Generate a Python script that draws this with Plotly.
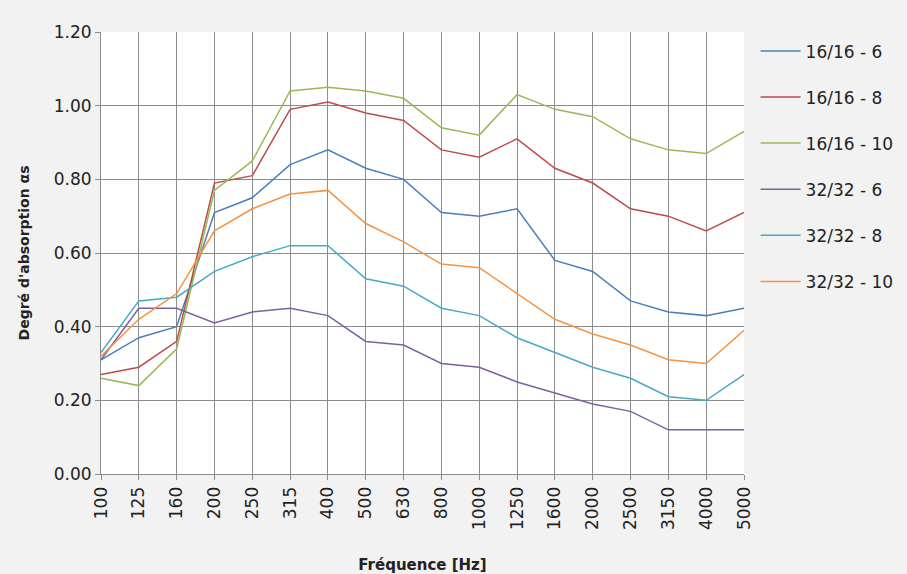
import plotly.graph_objects as go

freqs = ["100", "125", "160", "200", "250", "315", "400", "500", "630", "800",
         "1000", "1250", "1600", "2000", "2500", "3150", "4000", "5000"]

s16_6 = [0.31, 0.37, 0.40, 0.71, 0.75, 0.84, 0.88, 0.83, 0.80, 0.71, 0.70, 0.72, 0.58, 0.55, 0.47, 0.44, 0.43, 0.45]
s16_8 = [0.27, 0.29, 0.36, 0.79, 0.81, 0.99, 1.01, 0.98, 0.96, 0.88, 0.86, 0.91, 0.83, 0.79, 0.72, 0.70, 0.66, 0.71]
s16_10 = [0.26, 0.24, 0.34, 0.77, 0.85, 1.04, 1.05, 1.04, 1.02, 0.94, 0.92, 1.03, 0.99, 0.97, 0.91, 0.88, 0.87, 0.93]
s32_6 = [0.31, 0.45, 0.45, 0.41, 0.44, 0.45, 0.43, 0.36, 0.35, 0.30, 0.29, 0.25, 0.22, 0.19, 0.17, 0.12, 0.12, 0.12]
s32_8 = [0.33, 0.47, 0.48, 0.55, 0.59, 0.62, 0.62, 0.53, 0.51, 0.45, 0.43, 0.37, 0.33, 0.29, 0.26, 0.21, 0.20, 0.27]
s32_10 = [0.32, 0.42, 0.49, 0.66, 0.72, 0.76, 0.77, 0.68, 0.63, 0.57, 0.56, 0.49, 0.42, 0.38, 0.35, 0.31, 0.30, 0.39]

names = ["16/16 - 6", "16/16 - 8", "16/16 - 10", "32/32 - 6", "32/32 - 8", "32/32 - 10"]
series = [s16_6, s16_8, s16_10, s32_6, s32_8, s32_10]
colors = ["#4A7EBB", "#BE4B48", "#98B954", "#7D60A0", "#46AAC5", "#F69240"]

font_family = "DejaVu Sans"

fig = go.Figure()
for i, (n, s, c) in enumerate(zip(names, series, colors)):
    fig.add_trace(go.Scatter(x=freqs, y=s, name=n, mode="lines",
                             line=dict(color=c, width=1.5),
                             legendgroup=f"g{i}"))

fig.update_layout(
    width=907, height=574,
    paper_bgcolor="#f2f2f2",
    plot_bgcolor="#ffffff",
    margin=dict(l=101, r=163, t=32, b=100, autoexpand=False),
    font=dict(family=font_family, size=15, color="#222222"),
    legend=dict(x=1.018, y=0.997, xanchor="left", yanchor="top",
                traceorder="grouped", tracegroupgap=21,
                font=dict(size=17, color="#222222"),
                bgcolor="rgba(0,0,0,0)", itemwidth=40),
    showlegend=True,
)

fig.update_xaxes(
    type="category", range=[0, len(freqs) - 1], automargin=False,
    tickangle=-90, tickfont=dict(size=17),
    showgrid=True, gridcolor="#8c8c8c", gridwidth=1,
    showline=True, linecolor="#8c8c8c",
    ticks="outside", ticklen=5, tickcolor="#8c8c8c",
    title=dict(text="<b>Fréquence [Hz]</b>", font=dict(size=15), standoff=36),
)
fig.update_yaxes(
    range=[0, 1.2], dtick=0.2, tickformat=".2f", automargin=False,
    tickfont=dict(size=17),
    showgrid=True, gridcolor="#8c8c8c", gridwidth=1,
    showline=True, linecolor="#8c8c8c",
    ticks="outside", ticklen=5, tickcolor="#8c8c8c",
    zeroline=False,
    title=dict(text="<b>Degré d'absorption αs</b>", font=dict(size=14), standoff=20),
)

fig.write_html("out.html", config={"displayModeBar": False},
               post_script="document.body.style.margin='0';document.body.style.background='#f2f2f2';")
